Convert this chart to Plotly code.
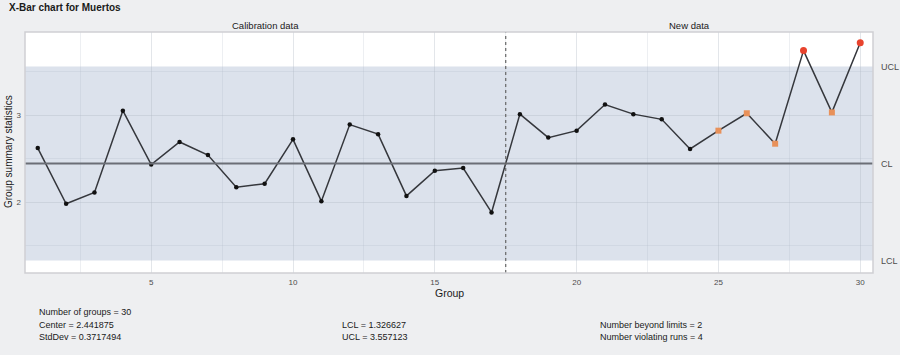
import plotly.graph_objects as go

# ---------------- data ----------------
groups = list(range(1, 31))
stats = [2.62, 1.98, 2.11, 3.05, 2.43, 2.69, 2.54, 2.17, 2.21, 2.72,
         2.01, 2.89, 2.78, 2.07, 2.36, 2.39, 1.88, 3.01, 2.74, 2.82,
         3.12, 3.01, 2.95, 2.61, 2.82, 3.02, 2.67, 3.74, 3.03, 3.83]
violating_runs = [25, 26, 27, 29]
beyond_limits = [28, 30]
n_calibration = 17
center = 2.441875
stddev = 0.3717494
lcl = 1.326627
ucl = 3.557123
x_ticks = [5, 10, 15, 20, 25, 30]
y_ticks = [2, 3]
title = "X-Bar chart for Muertos"
sections = ["Calibration data", "New data"]

# ---------------- layout constants ----------------
W, H = 900, 355
L, R, T, B = 25, 27, 32, 82
pw, ph = W - L - R, H - T - B
xr = [0.55, 30.45]
yr = [1.184, 3.954]
font_main = "Liberation Sans, Arial, sans-serif"

def px_to_paper_x(px):
    return (px - L) / pw

def px_to_paper_y(py):
    return (H - B - py) / ph

fig = go.Figure()

# main line
fig.add_trace(go.Scatter(x=groups, y=stats, mode="lines",
                         line=dict(color="#35373c", width=1.5),
                         hoverinfo="skip", showlegend=False))
normal_x = [g for g in groups if g not in violating_runs and g not in beyond_limits]
normal_y = [stats[g - 1] for g in normal_x]
fig.add_trace(go.Scatter(x=normal_x, y=normal_y, mode="markers",
                         marker=dict(color="#111111", size=4.5),
                         showlegend=False))
fig.add_trace(go.Scatter(x=violating_runs, y=[stats[g - 1] for g in violating_runs],
                         mode="markers",
                         marker=dict(color="#e8915a", size=6, symbol="square"),
                         showlegend=False))
fig.add_trace(go.Scatter(x=beyond_limits, y=[stats[g - 1] for g in beyond_limits],
                         mode="markers",
                         marker=dict(color="#e8432d", size=7, symbol="circle"),
                         showlegend=False))

shapes = [
    # control band
    dict(type="rect", xref="paper", yref="y", x0=0, x1=1, y0=lcl, y1=ucl,
         fillcolor="#dce2ec", line=dict(width=0), layer="below"),
    # center line
    dict(type="line", xref="paper", yref="y", x0=0, x1=1, y0=center, y1=center,
         line=dict(color="#6b6e76", width=2), layer="above"),
    # calibration divider
    dict(type="line", xref="x", yref="paper", x0=n_calibration + 0.5, x1=n_calibration + 0.5,
         y0=0, y1=1, line=dict(color="#666666", width=1.2, dash="dot"), layer="above"),
    # panel border
    dict(type="rect", xref="paper", yref="paper", x0=0, x1=1, y0=0, y1=1,
         line=dict(color="#cfd0d3", width=1.5), layer="above"),
]

annotations = [
    dict(text="<b>%s</b>" % title, xref="paper", yref="paper",
         x=px_to_paper_x(7), y=px_to_paper_y(8), xanchor="left", yanchor="middle",
         showarrow=False, font=dict(size=10, color="#1a1a1a", family=font_main)),
    dict(text="Group", xref="paper", yref="paper",
         x=px_to_paper_x(449), y=px_to_paper_y(293), xanchor="center", yanchor="middle",
         showarrow=False, font=dict(size=10.5, color="#1a1a1a", family=font_main)),
    dict(text="Group summary statistics", xref="paper", yref="paper", textangle=-90,
         x=px_to_paper_x(8), y=px_to_paper_y(152), xanchor="center", yanchor="middle",
         showarrow=False, font=dict(size=10, color="#1a1a1a", family=font_main)),
]
# section labels
div_px = L + (n_calibration + 0.5 - xr[0]) / (xr[1] - xr[0]) * pw
centers_px = [(L + div_px) / 2, (div_px + L + pw) / 2]
for s, cx in zip(sections, centers_px):
    annotations.append(dict(text=s, xref="paper", yref="paper",
                            x=px_to_paper_x(cx), y=px_to_paper_y(25),
                            xanchor="center", yanchor="middle", showarrow=False,
                            font=dict(size=9.5, color="#1a1a1a", family=font_main)))
# limit labels
for lab, val in [("UCL", ucl), ("CL", center), ("LCL", lcl)]:
    annotations.append(dict(text=lab, xref="paper", yref="y",
                            x=px_to_paper_x(879), y=val, xanchor="left", yanchor="middle",
                            showarrow=False,
                            font=dict(size=9, color="#4d4d4d", family=font_main)))
# stats text
stat_rows = [
    ("Number of groups = %d" % len(groups), 37, 312),
    ("Center = %s" % "2.441875", 37, 325),
    ("StdDev = %s" % "0.3717494", 37, 337),
    ("LCL = %s" % "1.326627", 340, 325),
    ("UCL = %s" % "3.557123", 340, 337),
    ("Number beyond limits = %d" % len(beyond_limits), 598, 325),
    ("Number violating runs = %d" % len(violating_runs), 598, 337),
]
for txt, sx, sy in stat_rows:
    annotations.append(dict(text=txt, xref="paper", yref="paper",
                            x=px_to_paper_x(sx), y=px_to_paper_y(sy),
                            xanchor="left", yanchor="middle", showarrow=False,
                            font=dict(size=9, color="#1a1a1a", family=font_main)))

fig.update_layout(
    width=W, height=H,
    margin=dict(l=L, r=R, t=T, b=B, pad=0, autoexpand=False),
    paper_bgcolor="#eeeff1",
    plot_bgcolor="#ffffff",
    shapes=shapes,
    annotations=annotations,
    showlegend=False,
    font=dict(family=font_main),
    xaxis=dict(range=xr, tickvals=x_ticks, showline=False, zeroline=False,
               automargin=False,
               gridcolor="rgba(175,182,195,0.35)", gridwidth=1,
               minor=dict(tickvals=[2.5, 7.5, 12.5, 17.5, 22.5, 27.5],
                          showgrid=True, gridcolor="rgba(175,182,195,0.22)", gridwidth=1),
               tickfont=dict(size=8, color="#4d4d4d"), ticks="",
               ticklabelstandoff=3),
    yaxis=dict(range=yr, tickvals=y_ticks, showline=False, zeroline=False,
               automargin=False,
               gridcolor="rgba(175,182,195,0.35)", gridwidth=1,
               minor=dict(tickvals=[1.5, 2.5, 3.5], showgrid=True,
                          gridcolor="rgba(175,182,195,0.22)", gridwidth=1),
               tickfont=dict(size=8, color="#4d4d4d"), ticks="",
               ticklabelstandoff=3),
)

fig.write_html("out.html",
               config={"displayModeBar": False},
               post_script="document.body.style.margin='0px';"
                           "document.body.style.padding='0px';"
                           "document.body.style.background='#eeeff1';")
